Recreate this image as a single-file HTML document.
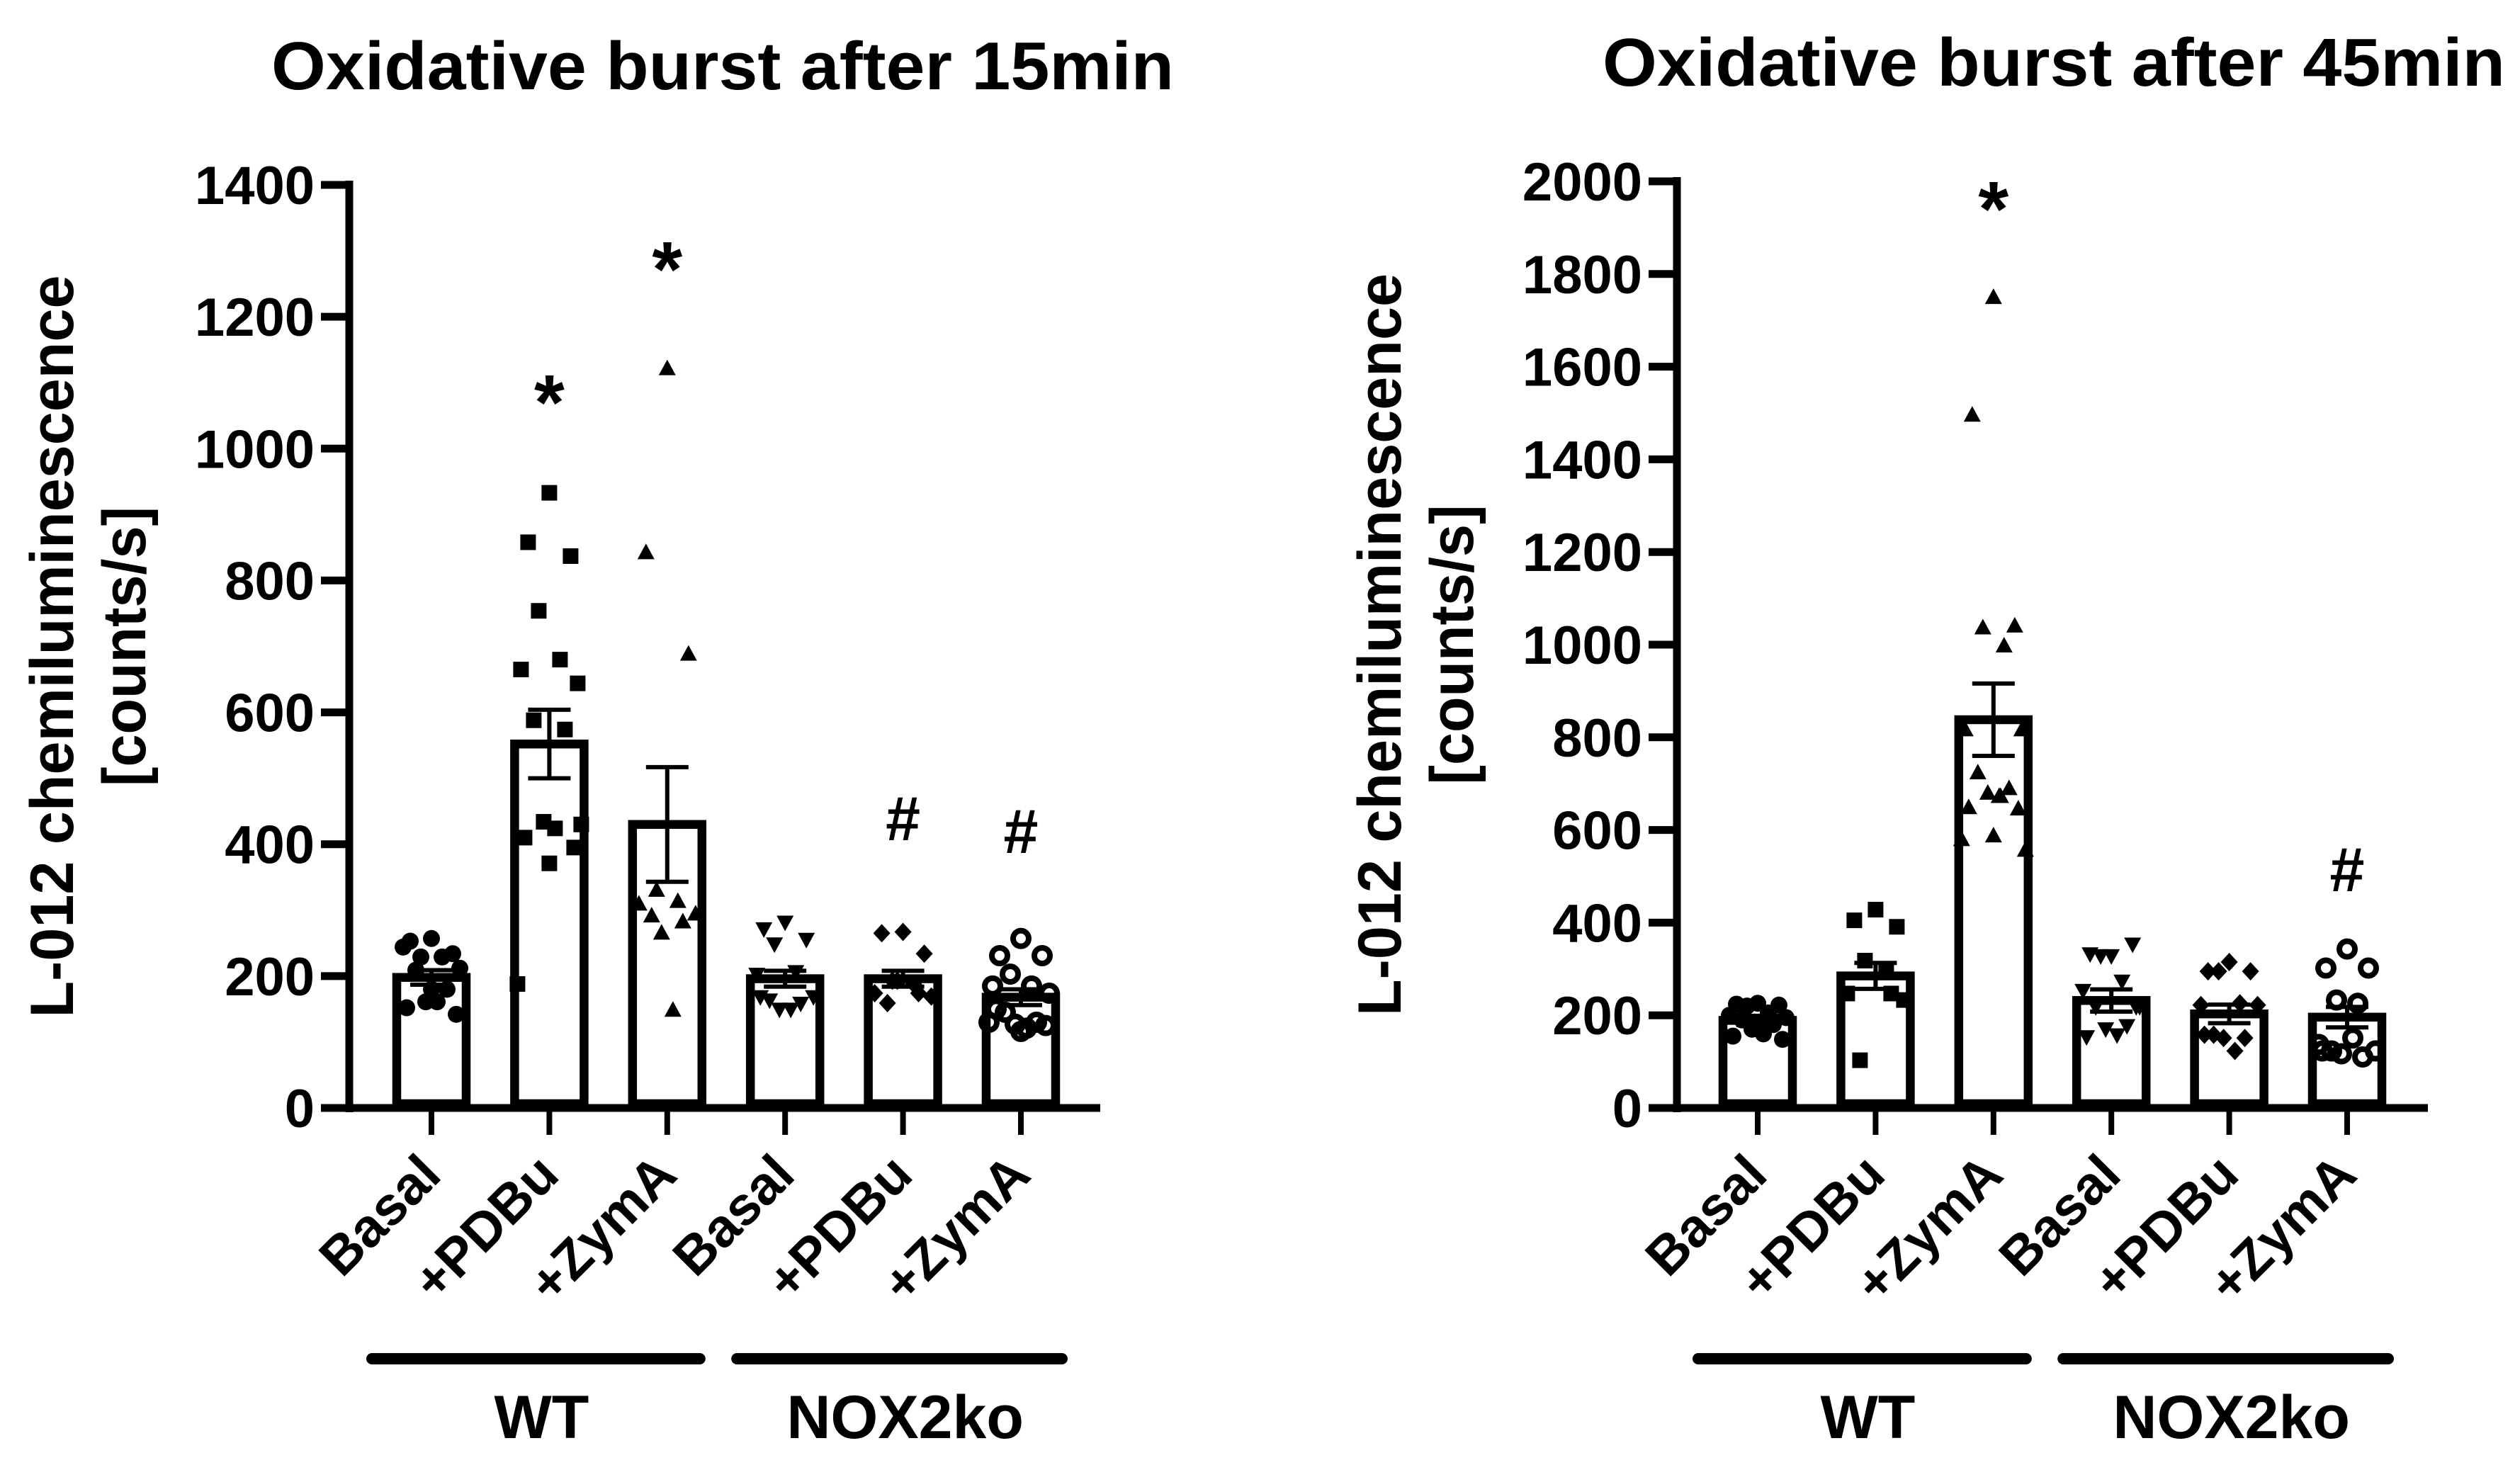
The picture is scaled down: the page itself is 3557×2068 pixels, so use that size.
<!DOCTYPE html>
<html><head><meta charset="utf-8"><style>html,body{margin:0;padding:0;background:#fff}svg{display:block}text{font-family:"Liberation Sans",Arial,sans-serif;font-weight:bold;fill:#000}</style></head>
<body>
<svg id="fig" width="3557" height="2068" viewBox="0 0 3557 2068" xmlns="http://www.w3.org/2000/svg"></svg>
<script>
const categories = ["Basal","+PDBu","+ZymA","Basal","+PDBu","+ZymA"];
const markerTypes = ["circle","square","triangle","itriangle","diamond","ocircle"];
// 15 min panel
const means15 = [198, 552, 430, 196, 196, 168];
const sem15 = [11, 52, 87, 12, 12, 12];
const points15 = [
 [257,253,234,229,229,244,212,209,180,161,161,152,142,180],
 [933,858,837,754,680,665,644,588,574,434,424,410,395,371,188,430],
 [1121,842,688,330,313,309,294,291,282,265,148],
 [282,272,256,249,207,203,169,164,159,150,150,169],
 [267,265,234,193,188,174,169,159,174,193],
 [257,231,231,203,185,185,174,145,130,127,121,150,125,116,130]
];
const ticks15 = [0,200,400,600,800,1000,1200,1400];
const sig15 = ["","*","*","","#","#"];
// 45 min panel
const means45 = [189, 285, 838, 232, 203, 196];
const sem45 = [10, 28, 78, 24, 20, 22];
const points45 = [
 [226,224,222,220,205,200,195,190,180,170,160,155,148],
 [428,405,391,318,295,247,233,103,247],
 [1749,1495,1040,1036,997,816,816,723,689,679,672,648,645,587,579,556,672],
 [329,333,354,329,274,254,219,219,178,171,158,154,219],
 [315,295,295,295,226,222,222,158,151,151,123,158],
 [343,302,302,233,226,137,123,123,110,117,151,123]
];
const ticks45 = [0,200,400,600,800,1000,1200,1400,1600,1800,2000];
const sig45 = ["","","*","","","#"];
const groupNames = ["WT","NOX2ko"];

const NS = "http://www.w3.org/2000/svg";
const svg = document.getElementById("fig");
function mk(tag, attrs, parent, text){
  const e = document.createElementNS(NS, tag);
  for (const k in attrs) e.setAttribute(k, attrs[k]);
  if (text !== undefined) e.textContent = text;
  (parent||svg).appendChild(e);
  return e;
}
function drawMarker(g, type, cx, cy){
  let e;
  if (type==="circle") e = mk("circle",{cx:cx,cy:cy,r:12,fill:"#000"},g);
  else if (type==="square") e = mk("rect",{x:cx-11,y:cy-11,width:22,height:22,fill:"#000"},g);
  else if (type==="triangle") e = mk("polygon",{points:`${cx},${cy-13} ${cx+12},${cy+9} ${cx-12},${cy+9}`,fill:"#000"},g);
  else if (type==="itriangle") e = mk("polygon",{points:`${cx},${cy+13} ${cx+12},${cy-9} ${cx-12},${cy-9}`,fill:"#000"},g);
  else if (type==="diamond") e = mk("polygon",{points:`${cx},${cy-13} ${cx+12},${cy} ${cx},${cy+13} ${cx-12},${cy}`,fill:"#000"},g);
  else e = mk("circle",{cx:cx,cy:cy,r:11,fill:"none",stroke:"#000","stroke-width":8},g);
  
  
}
const jit = [0,-30,30,-15,15,-40,40,-22,22,-8,8,-35,35,0,-45,45,10];

function panel(o){
  const g = mk("g",{});
  
  
  const y = v => o.y0 - (v/o.max)*(o.y0-o.yTop);
  const x = i => o.x0 + i*166.4;
  const t = mk("text",{x:o.titleX,y:o.titleY,"font-size":96,textLength:o.titleW,lengthAdjust:"spacingAndGlyphs"},g,o.title);
   
  const yt = mk("text",{transform:`translate(${o.axisX-390},${(o.y0+o.yTop)/2}) rotate(-90)`,"text-anchor":"middle","font-size":86,textLength:1048,lengthAdjust:"spacingAndGlyphs"},g,"L-012 chemiluminescence");
   
  const yt2 = mk("text",{transform:`translate(${o.axisX-288},${(o.y0+o.yTop)/2}) rotate(-90)`,"text-anchor":"middle","font-size":86,textLength:395,lengthAdjust:"spacingAndGlyphs"},g,"[counts/s]");
   
  const ya = mk("line",{x1:o.axisX,y1:o.yTop-6,x2:o.axisX,y2:o.y0+6,stroke:"#000","stroke-width":11},g);
   
  const xa = mk("line",{x1:o.axisX-5,y1:o.y0,x2:o.xEnd,y2:o.y0,stroke:"#000","stroke-width":11},g);
   
  o.ticks.forEach(v=>{
    const tl = mk("line",{x1:o.axisX-40,y1:y(v),x2:o.axisX,y2:y(v),stroke:"#000","stroke-width":11},g);
     
    const tx = mk("text",{x:o.axisX-49,y:y(v)+27,"text-anchor":"end","font-size":76},g,String(v));
     
  });
  categories.forEach((c,i)=>{
    const cx = x(i);
    const tk = mk("line",{x1:cx,y1:o.y0,x2:cx,y2:o.y0+38,stroke:"#000","stroke-width":8},g);
     
    const lb = mk("text",{transform:`translate(${cx+17},${o.y0+98}) rotate(-45)`,"text-anchor":"end","font-size":76},g,c);
     
    const top = y(o.means[i]);
    const b = mk("rect",{x:cx-49,y:top,width:98,height:o.y0-top-6,fill:"#fff",stroke:"#000","stroke-width":12.5},g);
     
    o.points[i].forEach((v,j)=> drawMarker(g, markerTypes[i], cx + jit[j%jit.length], y(v)));
    const hi = y(o.means[i]+o.sem[i]), lo = y(o.means[i]-o.sem[i]);
    const eb = mk("path",{d:`M${cx},${hi}V${lo}M${cx-30},${hi}H${cx+30}M${cx-30},${lo}H${cx+30}`,stroke:"#000","stroke-width":6,fill:"none"},g);
     
    if (o.sig[i]){
      const isStar = o.sig[i]==="*";
      const s = mk("text",{x:cx,y:isStar? o.sigY[i]+52 : o.sigY[i]+30,"text-anchor":"middle","font-size":isStar?110:88},g,o.sig[i]);
       
    }
  });
  [0,1].forEach(k=>{
    const x1 = x(k*3)-84+16*k, x2 = x(k*3+2)+46+12*k;
    const gl = mk("line",{x1:x1,y1:1918,x2:x2,y2:1918,stroke:"#000","stroke-width":16,"stroke-linecap":"round"},g);
     
    const gt = mk("text",{x:(x1+x2)/2+8,y:2030,"text-anchor":"middle","font-size":86},g,groupNames[k]);
     
  });
}
panel({name:"panel-15min",title:"Oxidative burst after 15min",titleX:383,titleY:126,titleW:1274,
  axisX:493,x0:609,xEnd:1553,y0:1564,yTop:261,max:1400,ticks:ticks15,means:means15,sem:sem15,points:points15,sig:sig15,
  sigY:[0,554,366,0,1156,1174]});
panel({name:"panel-45min",title:"Oxidative burst after 45min",titleX:2262,titleY:121,titleW:1274,
  axisX:2367,x0:2481,xEnd:3427,y0:1564,yTop:256,max:2000,ticks:ticks45,means:means45,sem:sem45,points:points45,sig:sig45,
  sigY:[0,0,281,0,0,1228]});
</script>
</body></html>
